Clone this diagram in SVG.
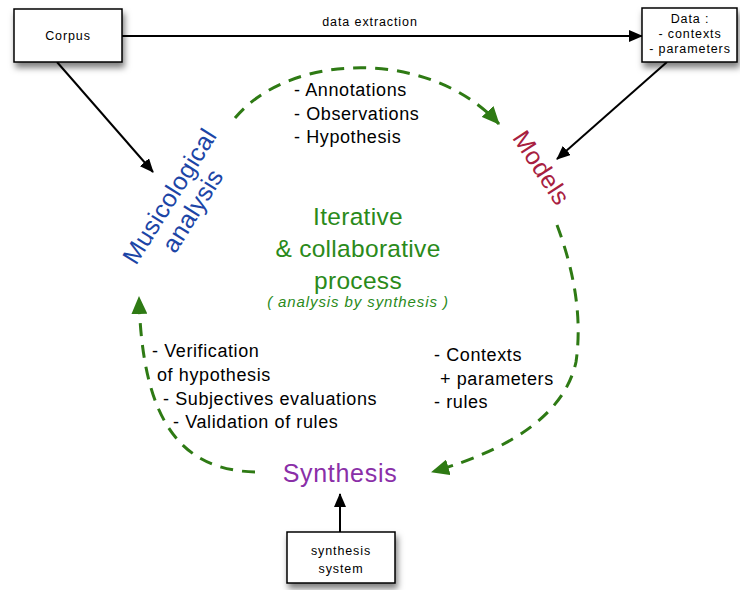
<svg xmlns="http://www.w3.org/2000/svg" width="740" height="590" viewBox="0 0 740 590">
<defs>
<filter id="sh" x="-20%" y="-20%" width="150%" height="160%">
<feDropShadow dx="2" dy="5" stdDeviation="3" flood-color="#000" flood-opacity="0.5"/>
</filter>
<marker id="ab" markerUnits="userSpaceOnUse" markerWidth="14" markerHeight="12" refX="13" refY="6" orient="auto">
<path d="M0,0 L14,6 L0,12 Z" fill="#000"/>
</marker>
<marker id="ag" markerUnits="userSpaceOnUse" markerWidth="18" markerHeight="16" refX="17" refY="8" orient="auto">
<path d="M0,0 L18,8 L0,16 Z" fill="#2e7a14"/>
</marker>
<style>
.box{fill:#fff;stroke:#000;stroke-width:1.5;filter:url(#sh)}
.sm{font-family:"Liberation Sans",Arial,sans-serif;font-size:12.5px;letter-spacing:0.9px;fill:#000;text-anchor:middle}
.lst{font-family:"Liberation Sans",Arial,sans-serif;font-size:18px;letter-spacing:0.6px;fill:#000}
.big{font-family:"Liberation Sans",Arial,sans-serif;font-size:24.5px;letter-spacing:0.3px;text-anchor:middle}
.blk{stroke:#000;stroke-width:2;fill:none;marker-end:url(#ab)}
.dash{stroke:#2e7a14;stroke-width:3;fill:none;stroke-dasharray:13 9;marker-end:url(#ag)}
</style>
</defs>
<rect width="740" height="590" fill="#fff"/>

<g id="connectors">
<path class="blk" d="M122,36 L642,36"/>
<text class="sm" x="370" y="26">data extraction</text>
<path class="blk" d="M57,62 L153,172"/>
<path class="blk" d="M667,62 L557,159"/>
<path class="blk" d="M340,532 L340,494"/>
<path class="dash" d="M235,118 C290,52 430,48 499,124"/>
<path class="dash" d="M557,225 Q585,300 576,362 Q560,435 432,472"/>
<path class="dash" d="M255,472 C180,470 142,420 139,297"/>
</g>

<g id="corpus">
<rect class="box" x="14" y="9" width="108" height="53"/>
<text class="sm" x="68" y="40">Corpus</text>
</g>
<g id="data">
<rect class="box" x="642" y="8" width="95" height="54"/>
<text class="sm" x="690" y="23">Data :</text>
<text class="sm" x="690" y="38">- contexts</text>
<text class="sm" x="690" y="53">- parameters</text>
</g>
<g id="synthesis-system">
<rect class="box" x="287" y="532" width="108" height="51"/>
<text class="sm" x="341" y="555">synthesis</text>
<text class="sm" x="341" y="573">system</text>
</g>

<g id="musicological">
<g transform="translate(182,204) rotate(-58)">
<text class="big" x="0" y="-6" fill="#1c45a6" style="font-size:25px">Musicological</text>
<text class="big" x="0" y="21" fill="#1c45a6" style="font-size:25px">analysis</text>
</g>
</g>
<g id="models">
<text class="big" fill="#a82040" style="font-size:25px" transform="translate(541,168) rotate(57)" x="0" y="8">Models</text>
</g>
<g id="synthesis">
<text class="big" x="340" y="482" fill="#8a2fa8" style="font-size:25px;letter-spacing:0.7px">Synthesis</text>
</g>
<g id="center">
<text class="big" x="358" y="225" fill="#2a8a1a">Iterative</text>
<text class="big" x="358" y="257" fill="#2a8a1a">&amp; collaborative</text>
<text class="big" x="358" y="289" fill="#2a8a1a">process</text>
<text x="358" y="307" fill="#2a8a1a" font-family="Liberation Sans, Arial, sans-serif" font-size="15" letter-spacing="0.9" font-style="italic" text-anchor="middle">( analysis by synthesis )</text>
</g>

<g id="list-top">
<text class="lst" x="294" y="96">- Annotations</text>
<text class="lst" x="294" y="120">- Observations</text>
<text class="lst" x="294" y="143">- Hypothesis</text>
</g>
<g id="list-left">
<text class="lst" x="152" y="357">- Verification</text>
<text class="lst" x="157" y="381">of hypothesis</text>
<text class="lst" x="163" y="405">- Subjectives evaluations</text>
<text class="lst" x="173" y="428">- Validation of rules</text>
</g>
<g id="list-right">
<text class="lst" x="434" y="361">- Contexts</text>
<text class="lst" x="440" y="385">+ parameters</text>
<text class="lst" x="434" y="408">- rules</text>
</g>
</svg>
